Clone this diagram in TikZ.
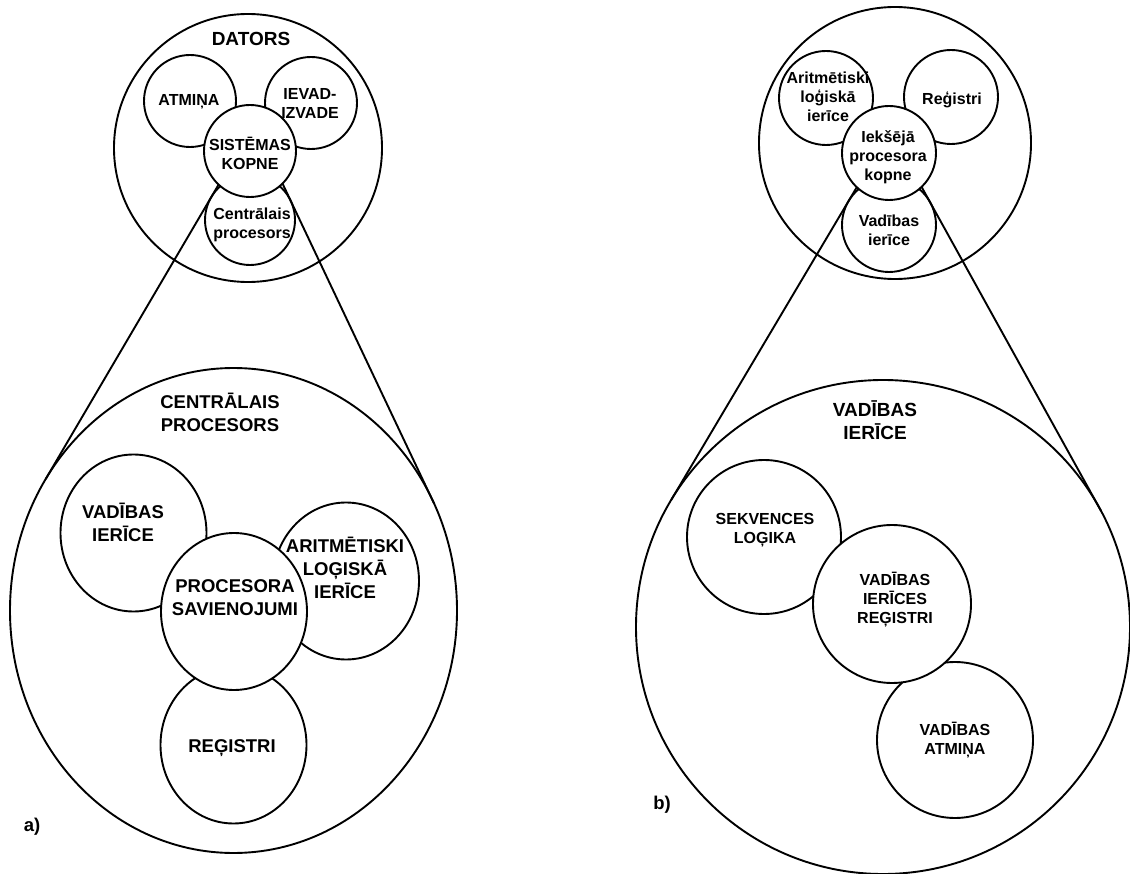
\documentclass[tikz,border=0pt]{standalone}
\usepackage{fontspec}
\setmainfont{Liberation Sans}
\usetikzlibrary{shapes.geometric,calc}
\begin{document}
\begin{tikzpicture}[x=1pt,y=-1pt,
  ring/.style={draw, circle, line width=1.9pt, fill=white, inner sep=0pt, outer sep=0pt, minimum size=#1},
  oval/.style 2 args={draw, ellipse, line width=1.9pt, fill=white, inner sep=0pt, outer sep=0pt, minimum width=#1, minimum height=#2},
  small/.style={font=\bfseries\fontsize{16}{19}\selectfont, align=center, inner sep=0pt},
  large/.style={font=\bfseries\fontsize{18.5}{23}\selectfont, align=center, inner sep=0pt},
  title/.style={font=\bfseries\fontsize{19}{23}\selectfont, align=center, inner sep=0pt},
  zoomline/.style={line width=1.9pt}
]
\useasboundingbox (0,0) rectangle (1130,874);

% ---------- a) computer and its central processor ----------
\node[ring=268pt] (dators) at (248,148) {};
\node[ring=92pt] (atmina) at (190,101) {};
\node[ring=92pt] (ievad) at (311,103) {};
\node[ring=90pt] (cpu) at (250,220) {};

\node[oval={447pt}{485pt}] (cpuBig) at (233.5,610.5) {};
\node[oval={146pt}{157pt}] (vi) at (133.5,533) {};
\node[oval={146pt}{157pt}] (alu) at (346,581) {};
\node[oval={146pt}{157pt}] (reg) at (233.5,745) {};

% zoom lines, tangent to the small and the large circle
\coordinate (aL1) at (211.2,197.2);
\coordinate (aR1) at (290.7,200.8);
\draw[zoomline] ($(aL1)!-0.1!(cpuBig.145.7)$) -- (cpuBig.145.7);
\draw[zoomline] ($(aR1)!-0.1!(cpuBig.28.9)$) -- (cpuBig.28.9);

\node[ring=92pt] (bus) at (250,151) {};
\node[oval={146pt}{157pt}] (conn) at (234,611.5) {};

% ---------- b) processor and its control unit ----------
\node[ring=272pt] (proc) at (895,143) {};
\node[ring=94pt] (aluS) at (826,98) {};
\node[ring=94pt] (regS) at (951,97) {};
\node[ring=94pt] (cuS) at (889,225) {};

\node[ring=494pt] (cuBig) at (883,627) {};
\node[ring=154pt] (seq) at (764,537) {};
\node[ring=156pt] (cmem) at (955,740) {};

\coordinate (bL1) at (848.6,201);
\coordinate (bR1) at (930.1,202.3);
\draw[zoomline] ($(bL1)!-0.1!(cuBig.149.3)$) -- (cuBig.149.3);
\draw[zoomline] ($(bR1)!-0.1!(cuBig.28.9)$) -- (cuBig.28.9);

\node[ring=94pt] (ibus) at (889,153) {};
\node[ring=158pt] (creg) at (892,604) {};

% ---------- labels ----------
\node[title] (tDators) at (251,39) {DATORS};
\node[small] (tAtmina) at (189,102) {ATMIŅA};
\node[small] (tIevad) at (310,103) {IEVAD-\\IZVADE};
\node[small] (tBus) at (250,153) {SISTĒMAS\\KOPNE};
\node[small] (tCpu) at (252,225) {Centrālais\\procesors};

\node[large] (tCpuBig) at (220,412) {CENTRĀLAIS\\PROCESORS};
\node[large] (tVi) at (123,522) {VADĪBAS\\IERĪCE};
\node[large] (tConn) at (235,598) {PROCESORA\\SAVIENOJUMI};
\node[large] (tAlu) at (345,568) {ARITMĒTISKI\\LOĢISKĀ\\IERĪCE};
\node[large] (tReg) at (232,748) {REĢISTRI};
\node[large] (tA) at (32,827) {a)};

\node[small] (tAluS) at (828,97) {Aritmētiski\\loģiskā\\ierīce};
\node[small] (tRegS) at (952,100) {Reģistri};
\node[small] (tIbus) at (888,157) {Iekšējā\\procesora\\kopne};
\node[small] (tCuS) at (889,230) {Vadības\\ierīce};

\node[title] (tCuBig) at (875,420) {VADĪBAS\\IERĪCE};
\node[small] (tSeq) at (765,530) {SEKVENCES\\LOĢIKA};
\node[small] (tCreg) at (895,600) {VADĪBAS\\IERĪCES\\REĢISTRI};
\node[small] (tCmem) at (955,740) {VADĪBAS\\ATMIŅA};
\node[large] (tB) at (662,805) {b)};
\end{tikzpicture}
\end{document}
